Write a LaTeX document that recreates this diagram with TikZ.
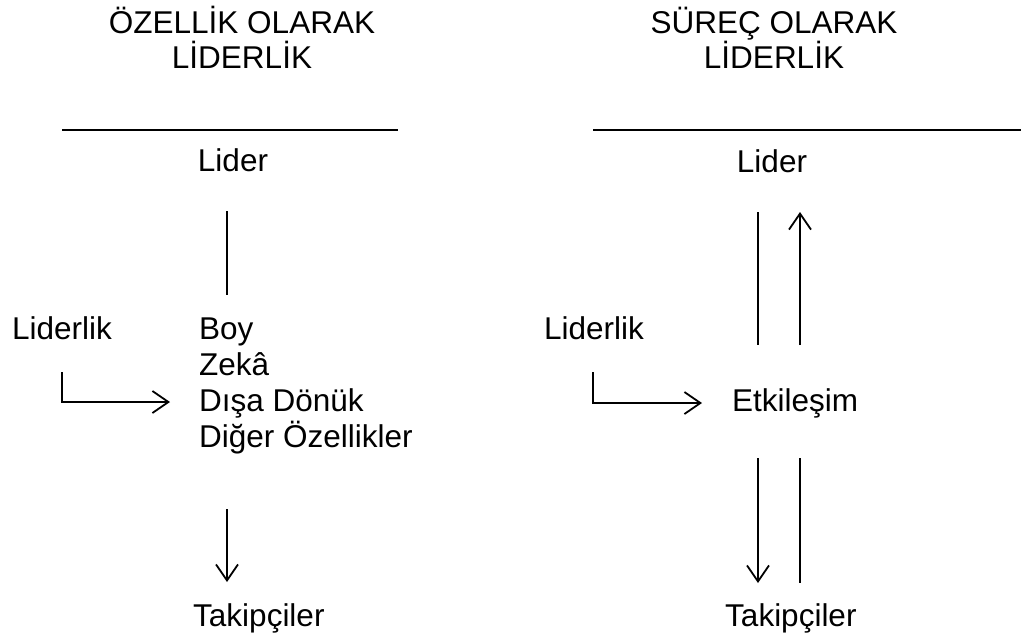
\documentclass[tikz,border=0pt]{standalone}
\usepackage{fontspec}
\setmainfont{Liberation Sans}
\usetikzlibrary{arrows.meta}
\begin{document}
\begin{tikzpicture}[x=1pt,y=-1pt,
  lbl/.style={inner sep=0pt, font=\fontsize{31.5}{36}\selectfont},
  ln/.style={line width=1.8pt},
  arr/.style={ln, -{Straight Barb[length=16pt,width=22pt,line width=1.8pt]}}]
\useasboundingbox (0,0) rectangle (1021,641);
% titles
\node[lbl,anchor=base] (t1a) at (242,33) {ÖZELLİK OLARAK};
\node[lbl,anchor=base] (t1b) at (242,68) {LİDERLİK};
\node[lbl,anchor=base] (t2a) at (774,33) {SÜREÇ OLARAK};
\node[lbl,anchor=base] (t2b) at (774,68) {LİDERLİK};
% left column
\node[lbl,anchor=base] (lider1) at (233,171) {Lider};
\node[lbl,anchor=base west] (lik1) at (12,339) {Liderlik};
\node[lbl,anchor=base west] (boy) at (199,339) {Boy};
\node[lbl,anchor=base west] (zeka) at (199,375) {Zekâ};
\node[lbl,anchor=base west] (disa) at (199,411) {Dışa Dönük};
\node[lbl,anchor=base west] (diger) at (199,447) {Diğer Özellikler};
\node[lbl,anchor=base west] (tak1) at (193,626) {Takipçiler};
% right column
\node[lbl,anchor=base] (lider2) at (772,172) {Lider};
\node[lbl,anchor=base west] (lik2) at (544,339) {Liderlik};
\node[lbl,anchor=base west] (etk) at (732,411) {Etkileşim};
\node[lbl,anchor=base west] (tak2) at (725,626) {Takipçiler};
% coordinates
\coordinate (h1a) at (62,130);
\coordinate (h1b) at (398,130);
\coordinate (h2a) at (593,130);
\coordinate (h2b) at (1021,130);
\coordinate (h2c) at (665,130);
\coordinate (h2d) at (930,130);
\coordinate (v1a) at (227,211);
\coordinate (v1b) at (227,295);
\coordinate (la1) at (62,372);
\coordinate (la2) at (170,402);
\coordinate (d1a) at (227,509);
\coordinate (d1b) at (227,582);
\coordinate (r1a) at (758,212);
\coordinate (r1b) at (758,345);
\coordinate (r2a) at (800,345);
\coordinate (r2b) at (800,212);
\coordinate (ra1) at (593,372);
\coordinate (ra2) at (702,403);
\coordinate (r3a) at (758,458);
\coordinate (r3b) at (758,583);
\coordinate (r4a) at (800,458);
\coordinate (r4b) at (800,583);
% lines
\draw[ln] (h1a) -- (h1b);
\draw[ln] (h2a) -- (h2b);
\draw[line width=2.3pt] (h2c) -- (h2d);
\draw[ln] (v1a) -- (v1b);
\draw[arr] (la1) |- (la2);
\draw[arr] (d1a) -- (d1b);
\draw[ln] (r1a) -- (r1b);
\draw[arr] (r2a) -- (r2b);
\draw[arr] (ra1) |- (ra2);
\draw[arr] (r3a) -- (r3b);
\draw[ln] (r4a) -- (r4b);
\end{tikzpicture}
\end{document}
